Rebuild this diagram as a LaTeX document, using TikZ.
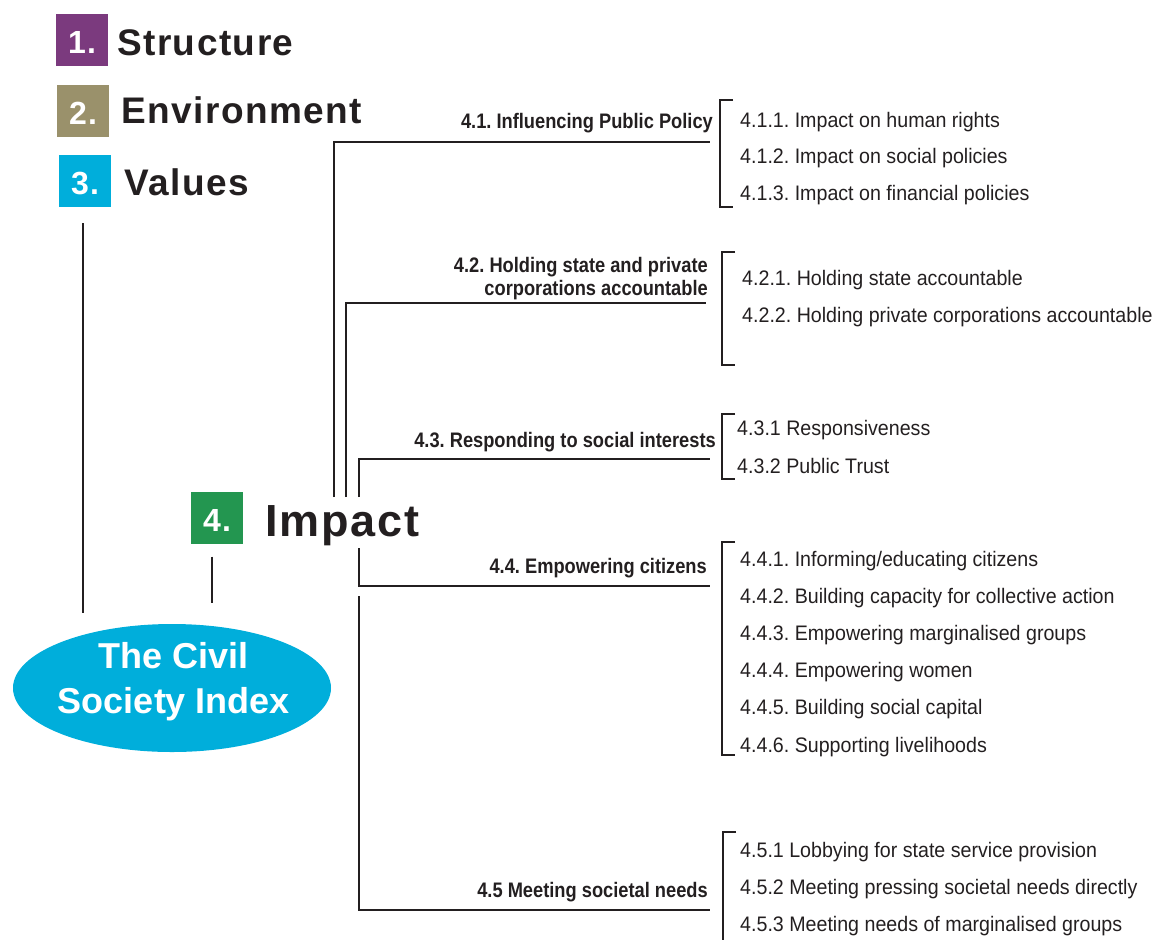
\documentclass[tikz,border=0pt]{standalone}
\usepackage{fontspec}
\setmainfont{Liberation Sans}
\newfontfamily\spacedfont[LetterSpace=4]{Liberation Sans}
\newfontfamily\narrowfont[FakeStretch=0.935]{Liberation Sans}
\newfontfamily\narrowbf[FakeStretch=0.87]{Liberation Sans}
\usepackage{tikz}
\usetikzlibrary{shapes.geometric, positioning, calc}

\definecolor{ink}{HTML}{231F20}
\definecolor{structpurple}{HTML}{7B3A7E}
\definecolor{envolive}{HTML}{9A916B}
\definecolor{valcyan}{HTML}{00AEDB}
\definecolor{impgreen}{HTML}{239650}
\frenchspacing

\begin{document}
\begin{tikzpicture}[
    x=1pt, y=-1pt,
    numbox/.style={rectangle, fill=#1, minimum size=52pt, inner sep=0pt, text height=27pt, text depth=0pt, text=white, font=\spacedfont\bfseries\fontsize{32}{32}\selectfont},
    title/.style={anchor=base west, inner sep=0pt, text=ink, font=\spacedfont\bfseries\fontsize{37}{37}\selectfont},
    branch/.style={anchor=base east, inner sep=0pt, text=ink, align=right, font=\narrowbf\bfseries\fontsize{21}{23}\selectfont},
    item/.style={anchor=base west, inner sep=0pt, text=ink, font=\narrowfont\fontsize{21}{21}\selectfont},
    link/.style={draw=ink, line width=2.2pt},
    brk/.style={draw=ink, line width=2.2pt}
]
\useasboundingbox (0,0) rectangle (1156,940);

% The four dimensions
\node[numbox=structpurple] (n1) at (82,40) {1.};
\node[numbox=envolive] (n2) at (83,111) {2.};
\node[numbox=valcyan] (n3) at (85,181) {3.};
\node[numbox=impgreen] (n4) at (217,517.5) {4.};
\node[title] (structure) at (117,55) {Structure};
\node[title] (environment) at (121,123) {Environment};
\node[title] (values) at (124,195) {Values};
\node[title, font=\spacedfont\bfseries\fontsize{45}{45}\selectfont] (impact) at (265,536) {Impact};

% Central ellipse
\node[ellipse, fill=valcyan, minimum width=318pt, minimum height=128pt, inner sep=0pt] (csi) at (172,688) {};
\node[text=white, align=center, inner sep=0pt, font=\bfseries\fontsize{36}{45}\selectfont] (csitext) at (174,682) {The Civil\\Society Index};

\draw[link, shorten <=16pt, shorten >=11pt] ([xshift=-2pt]n3.south) -- ([xshift=-2pt]n3.south |- csi.north);
\draw[link, shorten <=13pt, shorten >=21pt] ([xshift=-5pt]n4.south) -- ([xshift=-5pt]n4.south |- csi.north);

% Sub-dimension labels
\node[branch] (b41) at (713,128) {4.1. Influencing Public Policy};
\node[branch] (b42) at (708,295) {4.2. Holding state and private\\corporations accountable};
\node[branch] (b43) at (716,447) {4.3. Responding to social interests};
\node[branch] (b44) at (707,573) {4.4. Empowering citizens};
\node[branch] (b45) at (708,897) {4.5 Meeting societal needs};

% Branch lines from Impact
\coordinate (r41) at (334,497);
\coordinate (r42) at (346,497);
\coordinate (r43) at (359,497);
\coordinate (r44) at (359,548);
\coordinate (r45) at (359,596);
\coordinate (e41) at (710,142);
\coordinate (e42) at (706,303);
\coordinate (e43) at (710,459);
\coordinate (e44) at (710,586);
\coordinate (e45) at (710,910);
\draw[link] (r41) |- (e41);
\draw[link] (r42) |- (e42);
\draw[link] (r43) |- (e43);
\draw[link] (r44) |- (e44);
\draw[link] (r45) |- (e45);

% Brackets
\draw[brk] (733,100) -- (720,100) -- (720,207) -- (733,207);
\draw[brk] (735,252) -- (722,252) -- (722,365) -- (735,365);
\draw[brk] (735,414) -- (722,414) -- (722,479) -- (735,479);
\draw[brk] (735,542) -- (722,542) -- (722,755) -- (735,755);
\draw[brk] (736,832) -- (723,832) -- (723,940);

% Indicators
\node[item] (i411) at (740,127) {4.1.1. Impact on human rights};
\node[item] (i412) at (740,163) {4.1.2. Impact on social policies};
\node[item] (i413) at (740,200) {4.1.3. Impact on financial policies};
\node[item] (i421) at (742,285) {4.2.1. Holding state accountable};
\node[item] (i422) at (742,322) {4.2.2. Holding private corporations accountable};
\node[item] (i431) at (737,435) {4.3.1 Responsiveness};
\node[item] (i432) at (737,473) {4.3.2 Public Trust};
\node[item] (i441) at (740,566) {4.4.1. Informing/educating citizens};
\node[item] (i442) at (740,603) {4.4.2. Building capacity for collective action};
\node[item] (i443) at (740,640) {4.4.3. Empowering marginalised groups};
\node[item] (i444) at (740,677) {4.4.4. Empowering women};
\node[item] (i445) at (740,714) {4.4.5. Building social capital};
\node[item] (i446) at (740,752) {4.4.6. Supporting livelihoods};
\node[item] (i451) at (740,857) {4.5.1 Lobbying for state service provision};
\node[item] (i452) at (740,894) {4.5.2 Meeting pressing societal needs directly};
\node[item] (i453) at (740,931) {4.5.3 Meeting needs of marginalised groups};

\end{tikzpicture}
\end{document}
